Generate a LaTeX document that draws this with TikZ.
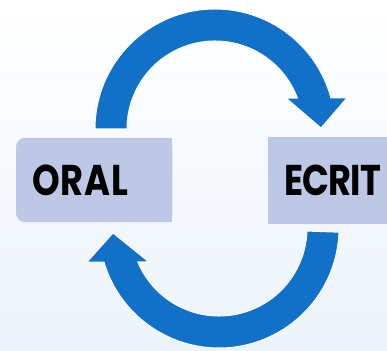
\documentclass[tikz,border=0pt]{standalone}
\usepackage{fontspec}
\newfontfamily\labelfont{Poppins}[FakeStretch=0.82,LetterSpace=-2]
\usetikzlibrary{backgrounds}
\definecolor{arrowblue}{RGB}{17,112,200}
\definecolor{boxblue}{RGB}{189,200,230}
\definecolor{paleblue}{RGB}{236,243,250}

\begin{document}
\begin{tikzpicture}[x=1pt,y=1pt,
  lab/.style={anchor=west,inner xsep=16pt,inner ysep=0pt,minimum height=84pt,
    align=left,font=\labelfont\bfseries\fontsize{43}{43}\selectfont},
  loop/.style={fill=arrowblue,draw=white,line width=1pt}]
\useasboundingbox (0,0) rectangle (387,350);
\clip (0,0) rectangle (387,350);
\node[lab,text width=124pt] (oral) at (16,170) {\addfontfeature{LetterSpace=2}ORAL};
\node[lab,text width=110pt,minimum height=87pt] (ecrit) at (268,169.5) {ECRIT};
\coordinate (top) at (215,221);
\coordinate (bot) at (219,122);
\begin{scope}[on background layer]
\shade[top color=white,bottom color=paleblue] (0,0) rectangle (387,350);
\fill[boxblue,rounded corners=9pt] (oral.south west) rectangle (oral.north east);
\fill[boxblue] (oral.south) rectangle (oral.north east);
\fill[boxblue] (ecrit.south west) rectangle (ecrit.north east);
\end{scope}
% upper arrow, ORAL to ECRIT
\filldraw[loop] ([shift={(180:120)}]top) arc[start angle=180,end angle=15,radius=120]
  -- ++(16,0) -- ([shift={(106,1)}]top) -- ([shift={(71,31)}]top)
  -- ([shift={(20.6:88)}]top) arc[start angle=20.6,end angle=180,radius=88] -- cycle;
% lower arrow, ECRIT back to ORAL
\filldraw[loop] ([shift={(-2:120)}]bot) arc[start angle=-2,end angle=-163.5,radius=120]
  -- ++(-17,0) -- ([shift={(-106,-5)}]bot) -- ([shift={(-70,-34)}]bot)
  -- ([shift={(-157.3:88)}]bot) arc[start angle=-157.3,end angle=-2,radius=88] -- cycle;
\end{tikzpicture}
\end{document}
